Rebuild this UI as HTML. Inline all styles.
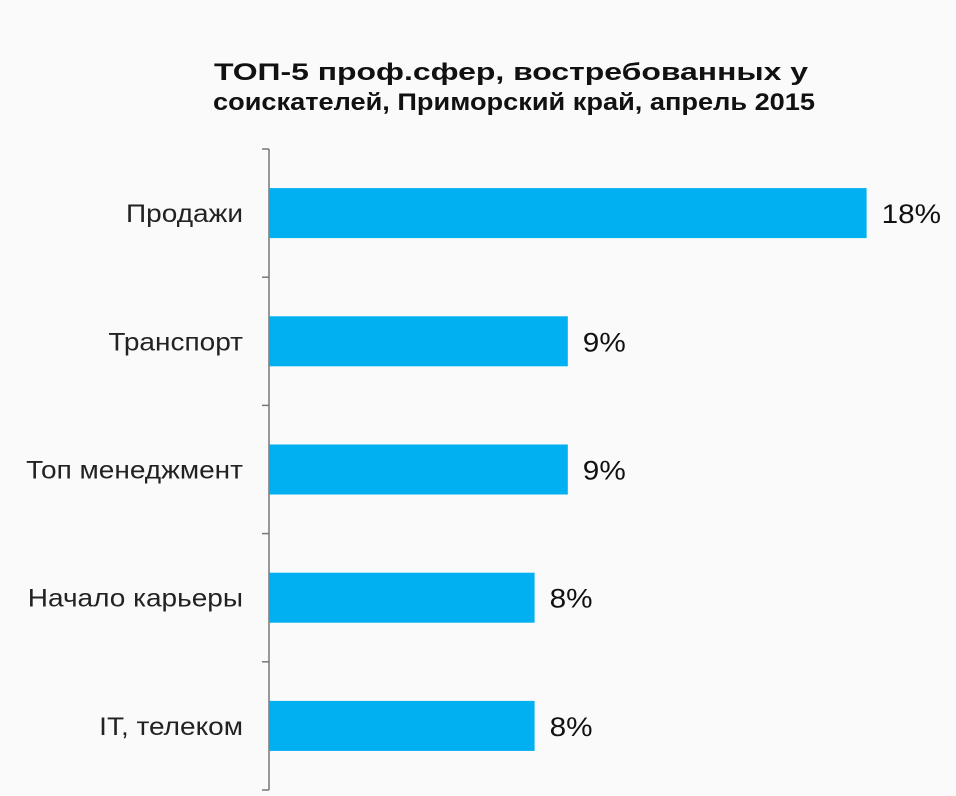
<!DOCTYPE html>
<html><head><meta charset="utf-8"><style>
html,body{margin:0;padding:0;background:#fafafa;}
svg{display:block;font-family:"Liberation Sans","DejaVu Sans",sans-serif;}
</style></head><body>
<svg id="chart" width="956" height="796" viewBox="0 0 956 796">
<rect x="0" y="0" width="956" height="796" fill="#fafafa"/>
<text x="214" y="80" font-size="24" font-weight="bold" fill="#111" textLength="594" lengthAdjust="spacingAndGlyphs">ТОП-5 проф.сфер, востребованных у</text>
<text x="213" y="110" font-size="24" font-weight="bold" fill="#111" textLength="602" lengthAdjust="spacingAndGlyphs">соискателей, Приморский край,  апрель 2015</text>
<g id="plot"></g>
</svg>
<script>
const categories = ["Продажи","Транспорт","Топ менеджмент","Начало карьеры","IT, телеком"];
const values = [18, 9, 9, 8, 8];
const valueLabels = ["18%","9%","9%","8%","8%"];

const NS = "http://www.w3.org/2000/svg";
const plot = document.getElementById("plot");
const x0 = 269, y0 = 149, y1 = 790, pxPerUnit = 33.2;
const band = (y1 - y0) / categories.length;
const barH = 50;
function xScale(v){ return x0 + v * pxPerUnit; }
function yBand(i){ return y0 + i * band; }

function mk(tag, attrs){ const e = document.createElementNS(NS, tag); for (const k in attrs) e.setAttribute(k, attrs[k]); plot.appendChild(e); return e; }
function stretch(t, f){ const w = t.getComputedTextLength(); t.setAttribute("textLength", w * f); t.setAttribute("lengthAdjust", "spacingAndGlyphs"); }

const axis = mk("line", {x1:x0, y1:y0, x2:x0, y2:y1, stroke:"#777", "stroke-width":1.5});


for (let i = 0; i <= categories.length; i++) {
  const t = mk("line", {x1:x0-7, y1:yBand(i), x2:x0, y2:yBand(i), stroke:"#777", "stroke-width":1.5});
  
  
}
categories.forEach((c, i) => {
  const cy = yBand(i) + band / 2;
  const r = mk("rect", {x:x0, y:cy - barH/2, width:xScale(values[i]) - x0, height:barH, fill:"#00b0f0"});
  
  
  const lab = mk("text", {x:243, y:cy + 9, "text-anchor":"end", "font-size":25, fill:"#222"});
  lab.textContent = c;
  
  
  stretch(lab, 1.12);
  const vl = mk("text", {x:xScale(values[i]) + 15, y:cy + 10, "font-size":27, fill:"#111"});
  vl.textContent = valueLabels[i];
  
  
  stretch(vl, 1.1);
});
</script>
</body></html>
